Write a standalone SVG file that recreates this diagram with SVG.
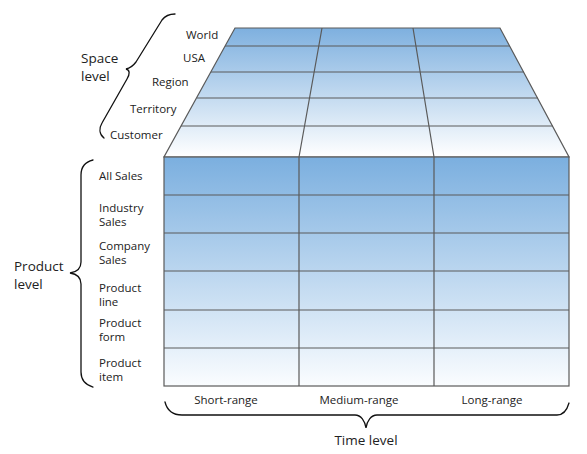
<svg xmlns="http://www.w3.org/2000/svg" width="587" height="454" viewBox="0 0 587 454">
<style>
.grid{fill:none;stroke:#5a5a5a;stroke-width:1.2}
.brace{fill:none;stroke:#111;stroke-width:1.3;stroke-linecap:round}
.t{font-family:"Open Sans","Noto Sans","Liberation Sans",sans-serif;fill:#222}
.s{font-size:11.5px}
.l{font-size:13.5px}
.c{text-anchor:middle}
</style>
<defs>
<linearGradient id="gTop" gradientUnits="userSpaceOnUse" x1="0" y1="28" x2="0" y2="157">
<stop offset="0" stop-color="#7eb0df"/>
<stop offset="1" stop-color="#ffffff"/>
</linearGradient>
<linearGradient id="gFront" gradientUnits="userSpaceOnUse" x1="0" y1="157" x2="0" y2="387">
<stop offset="0" stop-color="#7bafdf"/>
<stop offset="1" stop-color="#fbfdff"/>
</linearGradient>
</defs>
<g id="space-plane">
<polygon points="235,28 500,28 569,157 164,157" fill="url(#gTop)" stroke="#5a5a5a" stroke-width="1.2"/>
<path class="grid" d="M225,46 H510 M211,72 H524 M197,98 H538 M181,126 H553 M322,28 L299,157 M413,28 L434,157"/>
</g>
<g id="product-time-grid">
<rect x="164" y="157" width="405" height="229" fill="url(#gFront)" stroke="#5a5a5a" stroke-width="1.2"/>
<path class="grid" d="M164,195 H569 M164,233 H569 M164,271 H569 M164,310 H569 M164,348 H569 M299,157 V386 M434,157 V386"/>
</g>
<g id="space-labels" class="t s">
<text x="186" y="39">World</text>
<text x="183" y="62">USA</text>
<text x="152" y="86">Region</text>
<text x="130" y="113">Territory</text>
<text x="110" y="139">Customer</text>
</g>
<g id="product-labels" class="t s">
<text x="99" y="180">All Sales</text>
<text x="99" y="212">Industry</text>
<text x="99" y="226">Sales</text>
<text x="99" y="250">Company</text>
<text x="99" y="264">Sales</text>
<text x="99" y="292">Product</text>
<text x="99" y="306">line</text>
<text x="99" y="327">Product</text>
<text x="99" y="341">form</text>
<text x="99" y="367">Product</text>
<text x="99" y="381">item</text>
</g>
<g id="time-labels" class="t s c">
<text x="226" y="404">Short-range</text>
<text x="359" y="404">Medium-range</text>
<text x="492" y="404">Long-range</text>
</g>
<g id="level-labels" class="t l">
<text x="81" y="63">Space</text>
<text x="81" y="80.5">level</text>
<text x="14" y="271">Product</text>
<text x="14" y="288.5">level</text>
<text x="366" y="445" class="c">Time level</text>
</g>
<g id="braces">
<path class="brace" d="M175,14 C168,14 165,16 162,20 L136,62 C133,66 131,68 126,69 C130,70 130,74 127,79 L102,123 C99,128 99,134 104,138"/>
<path class="brace" d="M93,160 C85,162 81,167 81,175 L81,262 C81,268 77,272 70,273 C77,274 81,278 81,284 L81,372 C81,380 86,385 93,387"/>
<path class="brace" d="M165,402 C167,410 173,415 182,415 L355,415 C361,415 365,421 366,428 C367,421 371,415 377,415 L557,415 C563,415 567,410 569,403"/>
</g>
</svg>
